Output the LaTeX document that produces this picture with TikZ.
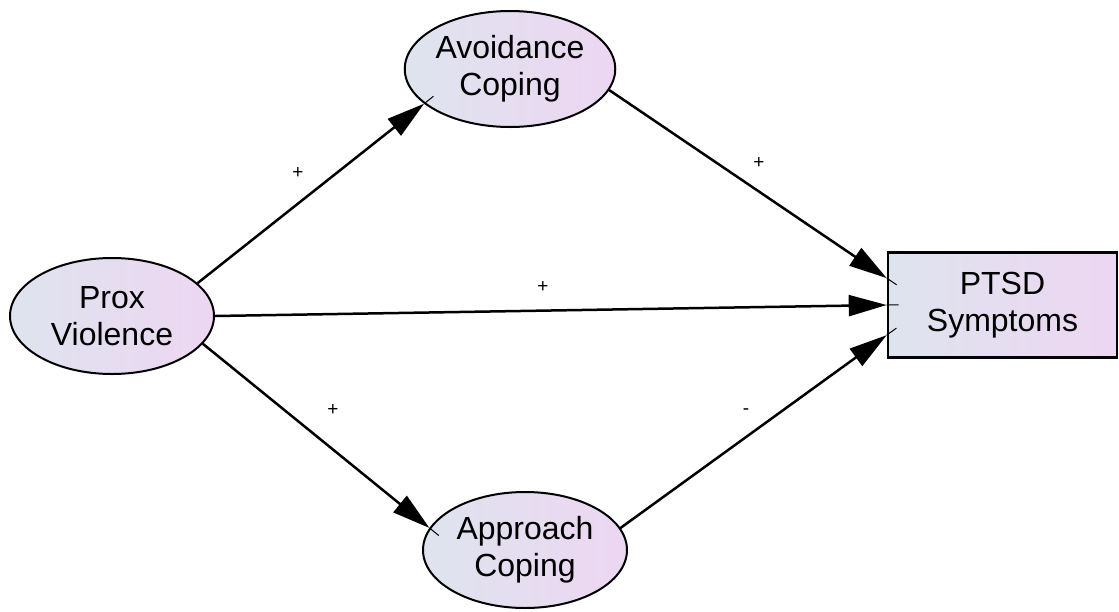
\documentclass[tikz,border=0pt]{standalone}
\usepackage{fontspec}
\setmainfont{Liberation Sans}
\usetikzlibrary{arrows.meta,shapes.geometric,calc}
\definecolor{gleft}{HTML}{DEE4EE}
\definecolor{gright}{HTML}{EDD6F2}
\begin{document}
\begin{tikzpicture}[x=1pt,y=-1pt,
  var/.style={ellipse,draw=black,line width=2pt,left color=gleft,right color=gright,
    minimum width=204pt,minimum height=116pt,inner sep=0pt,align=center,
    font=\fontsize{32}{37}\selectfont},
  obs/.style={rectangle,draw=black,line width=2.6pt,left color=gleft,right color=gright,
    minimum width=229pt,minimum height=105pt,inner sep=0pt,align=center,
    font=\fontsize{32}{37}\selectfont},
  path/.style={line width=2.5pt,-{Triangle[length=38pt,width=21pt]}},
  tail/.style={line width=1pt},
  sign/.style={font=\fontsize{19}{22}\selectfont,inner sep=0pt}]
\useasboundingbox (0,0) rectangle (1119,611);
\node[var] (prox) at (112,316) {Prox\\Violence};
\node[var] (avoid) at (510,69) {Avoidance\\Coping};
\node[var] (appr) at (525,550) {Approach\\Coping};
\node[obs] (ptsd) at (1002.5,305) {PTSD\\Symptoms};
\coordinate (pt1) at ($(ptsd.north west)!0.25!(ptsd.south west)$);
\coordinate (pt3) at ($(ptsd.north west)!0.78!(ptsd.south west)$);
\draw[path] (prox.21) -- (avoid.202);
\draw[path] (avoid.-12) -- (pt1);
\draw[path] (prox.east) -- (ptsd.west);
\draw[path] (prox.-17) -- (appr.167);
\draw[path] (appr.13) -- (pt3);
\draw[tail] (avoid.202) -- ($(avoid.202)!-12pt!(prox.21)$);
\draw[tail] (pt1) -- ($(pt1)!-12pt!(avoid.-12)$);
\draw[tail] (ptsd.west) -- ($(ptsd.west)!-12pt!(prox.east)$);
\draw[tail] (appr.167) -- ($(appr.167)!-12pt!(prox.-17)$);
\draw[tail] (pt3) -- ($(pt3)!-12pt!(appr.13)$);
\node[sign] (s1) at (298,173) {+};
\node[sign] (s2) at (759,163) {+};
\node[sign] (s3) at (543,287) {+};
\node[sign] (s4) at (333,410) {+};
\node[sign] (s5) at (746,412) {-};
\end{tikzpicture}
\end{document}
